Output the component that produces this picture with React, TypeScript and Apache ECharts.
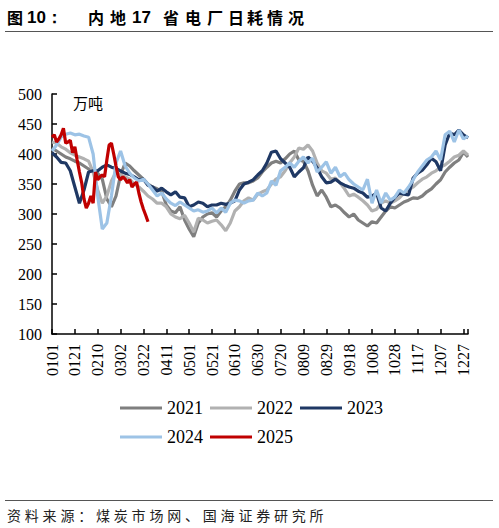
import React, { useEffect, useRef } from "react";
import * as echarts from "echarts";

// day-of-year steps used when sampling the values off the picture
const STEP = 4;
const STEP_2025 = 2;

const years = ["2021", "2022", "2023", "2024", "2025"];
const colors = ["#7f7f7f", "#b1b1b1", "#1f3864", "#9dc3e6", "#c00000"];

const v2021 = [
  410, 405, 400, 395, 392, 388, 385, 380, 375, 372,
  368, 358, 325, 312, 330, 365, 385, 380, 372, 365,
  358, 350, 345, 342, 338, 315, 305, 302, 312, 290,
  275, 262, 285, 295, 300, 302, 295, 305, 312, 323,
  338, 350, 352, 352, 355, 360, 370, 378, 385, 388,
  385, 392, 400, 405, 390, 388, 372, 348, 330, 340,
  328, 312, 315, 310, 302, 295, 300, 290, 285, 280,
  287, 285, 295, 305, 312, 310, 315, 320, 323, 327,
  326, 330, 337, 342, 350, 357, 370, 378, 385, 390,
  403, 395,
];
const v2022 = [
  420, 418, 412, 408, 402, 398, 395, 392, 388, 370,
  340, 318, 330, 355, 370, 365, 362, 358, 350, 345,
  338, 330, 325, 318, 318, 312, 300, 295, 292, 298,
  285, 270, 293, 290, 285, 288, 290, 282, 272, 285,
  305, 312, 322, 327, 323, 333, 337, 340, 350, 358,
  362, 372, 385, 395, 410, 408, 415, 405, 385, 372,
  368, 358, 360, 352, 342, 330, 333, 328, 322, 315,
  305, 308, 318, 322, 318, 322, 327, 335, 340, 345,
  352, 358, 362, 368, 372, 378, 382, 388, 395, 398,
  405, 398,
];
const v2023 = [
  402, 395, 386, 385, 372, 345, 318, 340, 370, 372,
  372, 378, 382, 378, 376, 372, 368, 366, 362, 357,
  358, 348, 345, 338, 343, 337, 332, 337, 328, 327,
  312, 315, 320, 318, 312, 315, 315, 318, 316, 318,
  322, 340, 350, 353, 357, 365, 372, 385, 403, 405,
  392, 385, 378, 362, 370, 377, 395, 388, 377, 362,
  352, 353, 358, 352, 348, 345, 343, 338, 335, 328,
  330, 335, 310, 305, 318, 328, 335, 333, 332, 360,
  368, 373, 382, 393, 387, 372, 415, 435, 432, 440,
  432, 427,
];
const v2024 = [
  405, 415, 428, 433, 435, 432, 433, 430, 428, 400,
  330, 275, 285, 330, 385, 405, 380, 368, 360, 355,
  358, 350, 340, 330, 335, 325, 318, 314, 320, 315,
  310, 305, 307, 303, 305, 310, 302, 310, 303, 318,
  323, 322, 318, 322, 323, 335, 330, 335, 355, 348,
  372, 378, 385, 378, 388, 395, 385, 393, 370, 378,
  387, 368, 378, 362, 368, 357, 350, 345, 340, 358,
  318, 340, 318, 335, 323, 328, 340, 335, 345, 357,
  370, 380, 390, 395, 405, 390, 432, 438, 420, 440,
  425, 430,
];
const v2025 = [
  428, 432, 420, 425, 432, 443, 418, 420, 423, 402,
  412, 390, 370, 352, 325, 310, 318, 330, 318, 370,
  357, 362, 365, 362, 390, 415, 418, 400, 380, 362,
  357, 362, 358, 352, 357, 345, 350, 353, 335, 320,
  308, 298, 287,
];

const yTicks = { min: 100, max: 500, interval: 50 };
const xTicks = { min: 0, max: 364, interval: 20 };

const source = "资料来源：煤炭市场网、国海证券研究所";
const unit = "万吨";

const serif = "'Liberation Serif', 'Times New Roman', serif";
const cjk = "'Noto Sans CJK SC', sans-serif";

// day index (2021 calendar) -> MMDD
const dayLabel = (d: number) => {
  if (d % 20 !== 0) return "";
  const dt = new Date(2021, 0, 1 + d);
  const mm = String(dt.getMonth() + 1).padStart(2, "0");
  const dd = String(dt.getDate()).padStart(2, "0");
  return mm + dd;
};

const toPairs = (vals: number[], step: number) => vals.map((v, i) => [i * step, v]);

const App = () => {
  const chartRef = useRef<HTMLDivElement>(null);

  useEffect(() => {
    if (!chartRef.current) return;
    const chart = echarts.init(chartRef.current, undefined, { renderer: "svg" });

    const all = [v2021, v2022, v2023, v2024, v2025];
    const steps = [STEP, STEP, STEP, STEP, STEP_2025];

    // title: characters are spaced out like the report header
    const titleParts = [
      { t: "图", x: 7 },
      { t: "10：", x: 27, latin: true },
      { t: "内", x: 88 },
      { t: "地", x: 110 },
      { t: "17", x: 132, latin: true },
      { t: "省", x: 163 },
      { t: "电", x: 185 },
      { t: "厂", x: 207 },
      { t: "日", x: 228 },
      { t: "耗", x: 247 },
      { t: "情", x: 267 },
      { t: "况", x: 288 },
    ];
    const titleEls = titleParts.map((p) => ({
      type: "text",
      x: p.x,
      y: 17,
      style: {
        text: p.t,
        fill: "#000",
        font: `bold ${p.latin ? 17 : 16}px ${p.latin ? "'Liberation Sans', Arial" : cjk}`,
        textVerticalAlign: "middle",
      },
    }));
    const sourceEls = Array.from(source).map((ch, i) => ({
      type: "text",
      x: 7 + i * 17.8,
      y: 515,
      style: {
        text: ch,
        fill: "#222",
        font: `14px ${cjk}`,
        textVerticalAlign: "middle",
      },
    }));

    const legendBase = {
      left: 115,
      icon: "rect",
      itemWidth: 42,
      itemHeight: 3,
      itemGap: 7,
      textStyle: { fontFamily: serif, fontSize: 18, color: "#000" },
    };

    const option: any = {
      animation: false,
      backgroundColor: "#fff",
      grid: { left: 52, top: 94, width: 416, height: 240 },
      legend: [
        { ...legendBase, data: years.slice(0, 3), top: 394 },
        { ...legendBase, data: years.slice(3), top: 423 },
      ],
      xAxis: {
        type: "value",
        min: xTicks.min,
        max: xTicks.max,
        interval: xTicks.interval,
        splitLine: { show: false },
        axisLine: { lineStyle: { color: "#000", width: 1.5 } },
        axisTick: { inside: true, length: 5, lineStyle: { color: "#000", width: 1.5 } },
        axisLabel: {
          rotate: 90,
          margin: 10,
          formatter: dayLabel,
          fontFamily: serif,
          fontSize: 16,
          color: "#000",
        },
      },
      yAxis: {
        type: "value",
        min: yTicks.min,
        max: yTicks.max,
        interval: yTicks.interval,
        splitLine: { show: false },
        axisLine: { show: true, lineStyle: { color: "#000", width: 1.5 } },
        axisTick: { show: true, inside: true, length: 5, lineStyle: { color: "#000", width: 1.5 } },
        axisLabel: { margin: 10, fontFamily: serif, fontSize: 16, color: "#000" },
      },
      series: years.map((y, i) => ({
        name: y,
        type: "line",
        data: toPairs(all[i], steps[i]),
        showSymbol: false,
        symbol: "none",
        color: colors[i],
        itemStyle: { color: colors[i] },
        lineStyle: { color: colors[i], width: 3.2 },
      })),
      graphic: [
        ...titleEls,
        { type: "line", shape: { x1: 5, y1: 31.5, x2: 493, y2: 31.5 }, style: { stroke: "#555", lineWidth: 1.2 } },
        {
          type: "text",
          x: 73,
          y: 102,
          style: { text: unit, fill: "#000", font: `15px ${cjk}`, textVerticalAlign: "middle" },
        },
        { type: "line", shape: { x1: 5, y1: 500.5, x2: 493, y2: 500.5 }, style: { stroke: "#555", lineWidth: 1.2 } },
        ...sourceEls,
      ],
    };

    chart.setOption(option);
    return () => chart.dispose();
  }, []);

  return (
    <div
      ref={chartRef}
      style={{ position: "absolute", left: 0, top: 0, width: 499, height: 528 }}
    />
  );
};

export default App;
